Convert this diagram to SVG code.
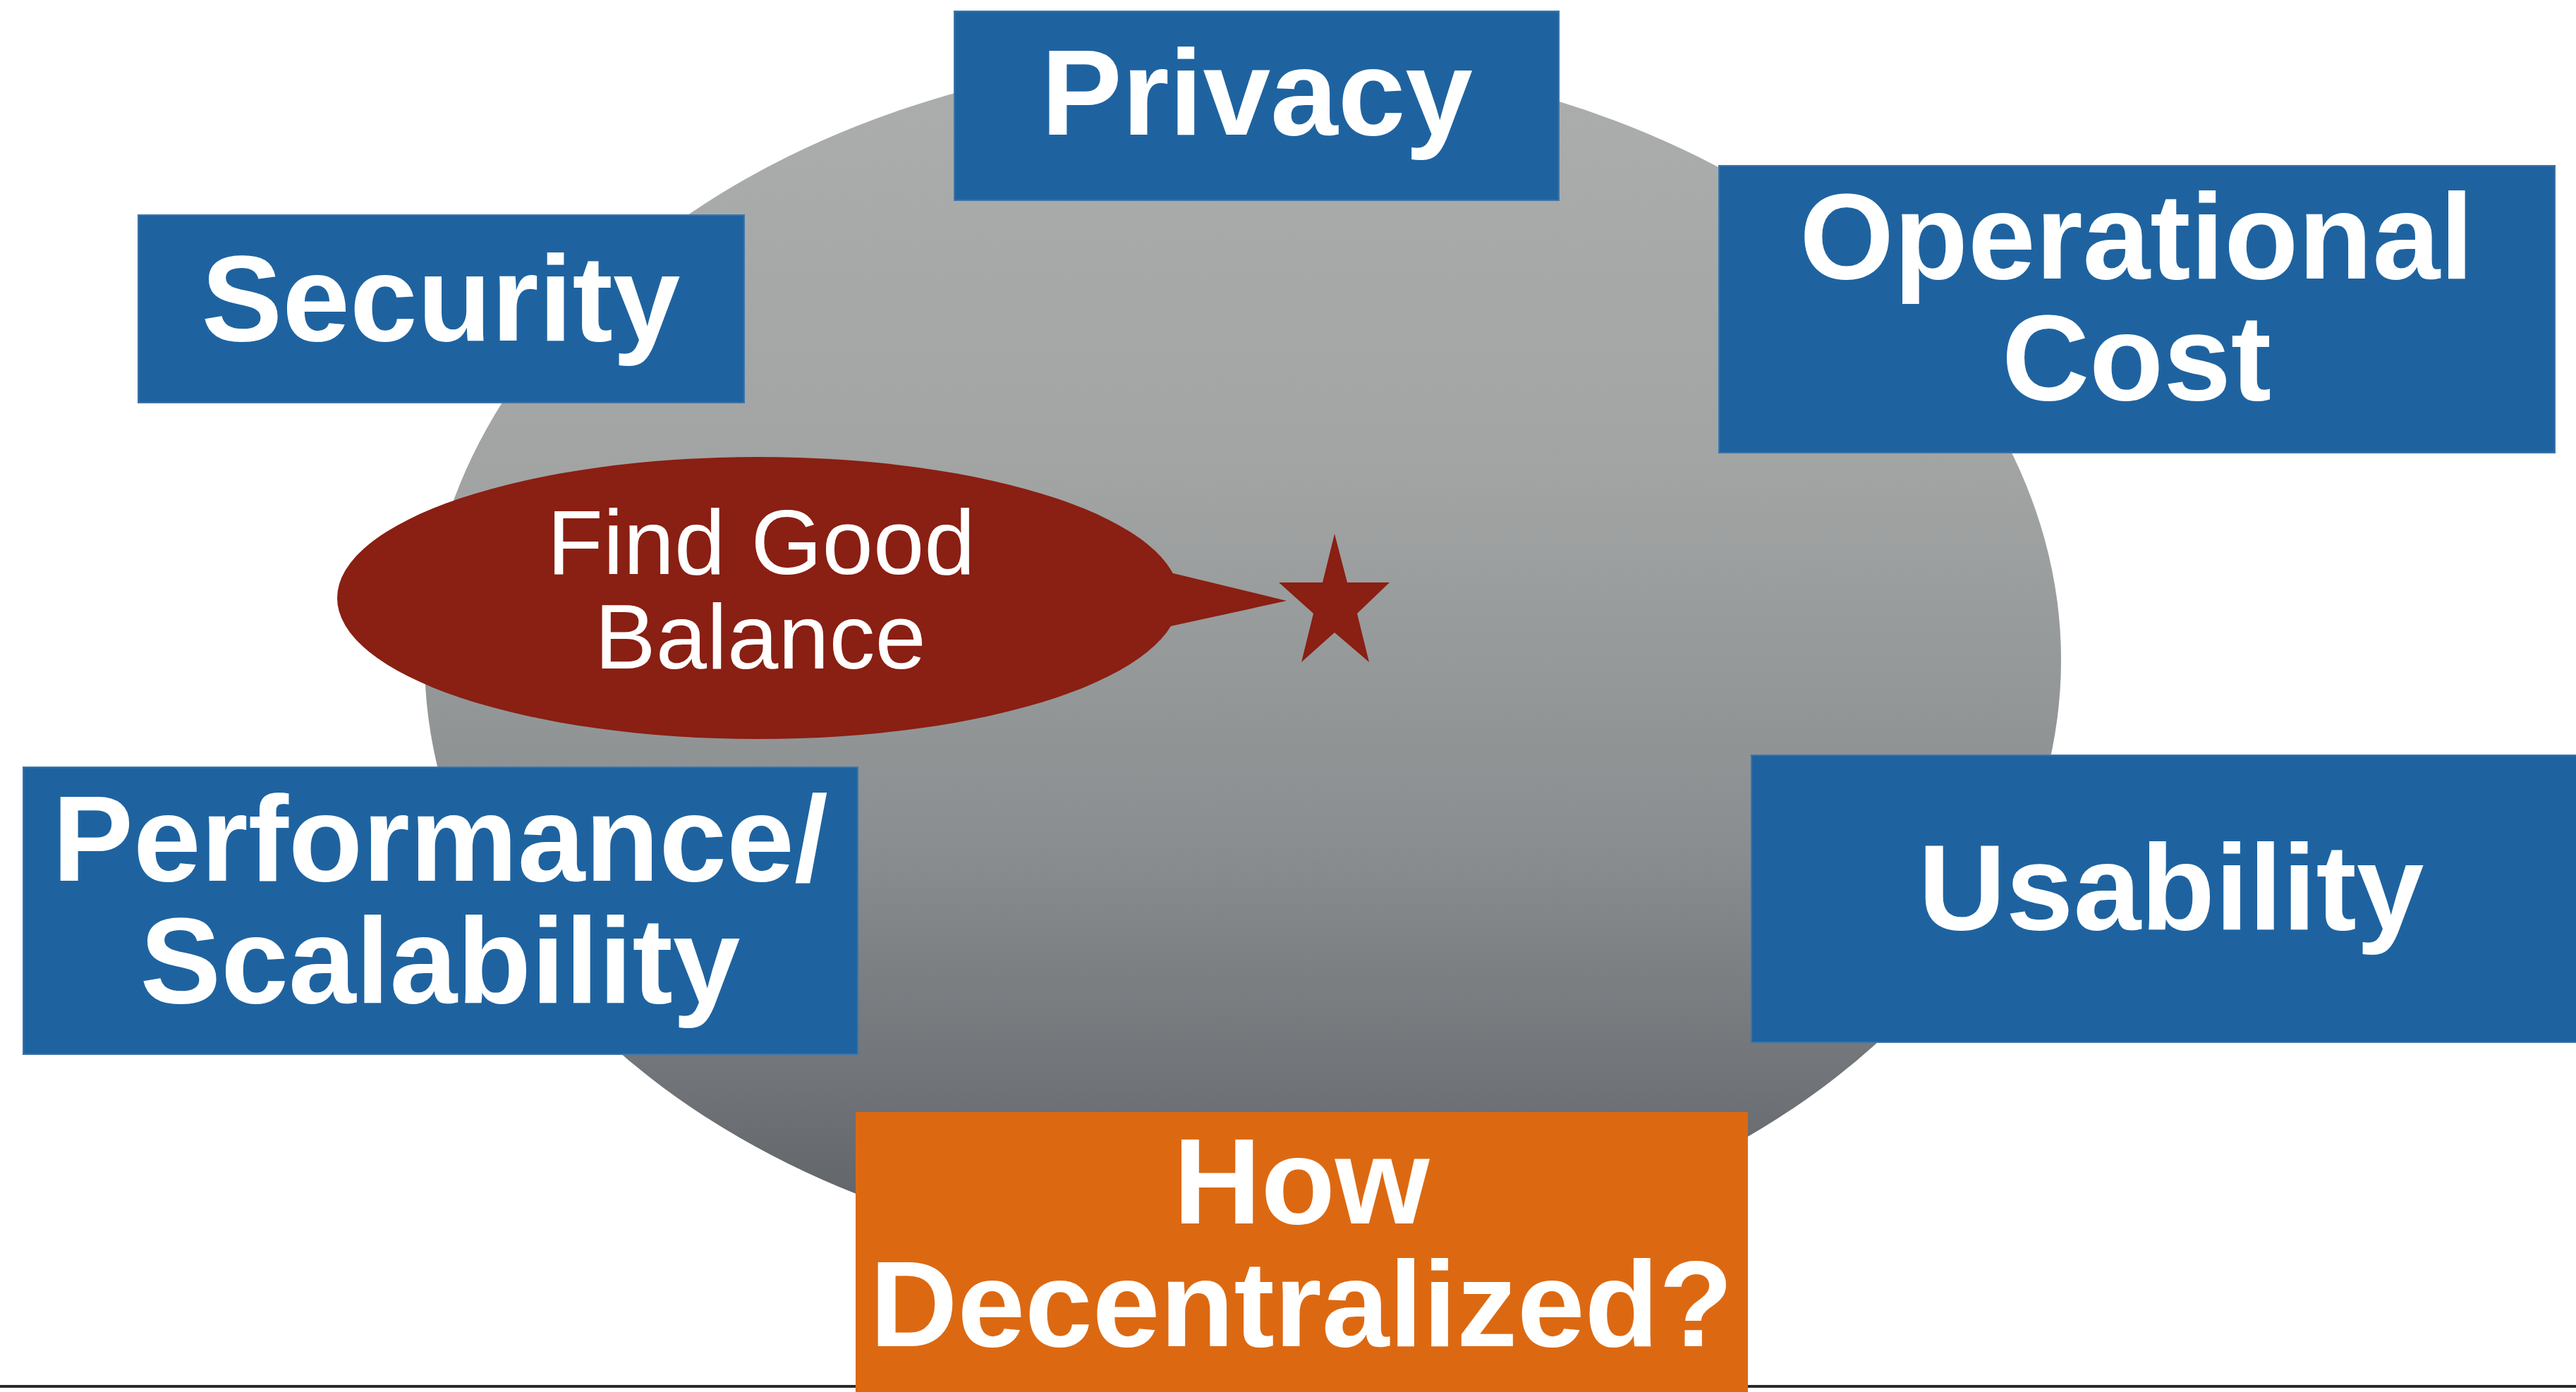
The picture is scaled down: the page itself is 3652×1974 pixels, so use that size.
<svg xmlns="http://www.w3.org/2000/svg" width="3652" height="1974" viewBox="0 0 3652 1974">
  <defs>
    <linearGradient id="grayGrad" x1="0" y1="0" x2="0" y2="1">
      <stop offset="0" stop-color="#abaeac"/>
      <stop offset="0.35" stop-color="#a1a4a3"/>
      <stop offset="0.65" stop-color="#8b8e90"/>
      <stop offset="0.85" stop-color="#707377"/>
      <stop offset="1" stop-color="#5a5d62"/>
    </linearGradient>
    <style>
      .box { fill: #1e63a0; stroke: #3d74a8; stroke-width: 2; }
      .obox { fill: #dc6912; }
      .lbl { font-family: "Liberation Sans", Arial, Helvetica, sans-serif; font-weight: bold; font-size: 172px; fill: #ffffff; text-anchor: middle; }
      .bub { font-family: "Liberation Sans", Arial, Helvetica, sans-serif; font-size: 130px; fill: #ffffff; text-anchor: middle; }
      .red { fill: #8a1f13; }
    </style>
  </defs>
  <rect x="0" y="0" width="3652" height="1974" fill="#ffffff"/>

  <g id="background">
    <ellipse cx="1762" cy="936" rx="1160" ry="859" fill="url(#grayGrad)"/>
    <line x1="0" y1="1966" x2="3652" y2="1966" stroke="#2a2a2a" stroke-width="4"/>
  </g>

  <g id="connectors"></g>

  <g id="balance">
    <ellipse class="red" cx="1075" cy="848" rx="597" ry="200"/>
    <polygon class="red" points="1655,811 1824,852 1655,889"/>
    <text class="bub" x="1079" y="814">Find Good</text>
    <text class="bub" x="1078" y="948">Balance</text>
  </g>

  <g id="star">
    <polygon class="red" points="1892,757 1910,826 1970,826 1924,870 1941,939 1892,897 1845,939 1862,870 1813,826 1875,826"/>
  </g>

  <g id="privacy">
    <rect class="box" x="1353" y="16" width="857" height="268"/>
    <text class="lbl" x="1782" y="191">Privacy</text>
  </g>

  <g id="security">
    <rect class="box" x="196" y="305" width="859" height="266"/>
    <text class="lbl" x="625" y="483">Security</text>
  </g>

  <g id="operational-cost">
    <rect class="box" x="2437" y="235" width="1185" height="407"/>
    <text class="lbl" x="3029" y="395">Operational</text>
    <text class="lbl" x="3029" y="567">Cost</text>
  </g>

  <g id="performance-scalability">
    <rect class="box" x="33" y="1088" width="1183" height="407"/>
    <text class="lbl" x="624" y="1249">Performance/</text>
    <text class="lbl" x="624" y="1422">Scalability</text>
  </g>

  <g id="usability">
    <rect class="box" x="2483" y="1071" width="1180" height="407"/>
    <text class="lbl" x="3078" y="1318">Usability</text>
  </g>

  <g id="how-decentralized">
    <rect class="obox" x="1213" y="1577" width="1265" height="397"/>
    <text class="lbl" x="1845" y="1735">How</text>
    <text class="lbl" x="1845" y="1909">Decentralized?</text>
  </g>
</svg>
